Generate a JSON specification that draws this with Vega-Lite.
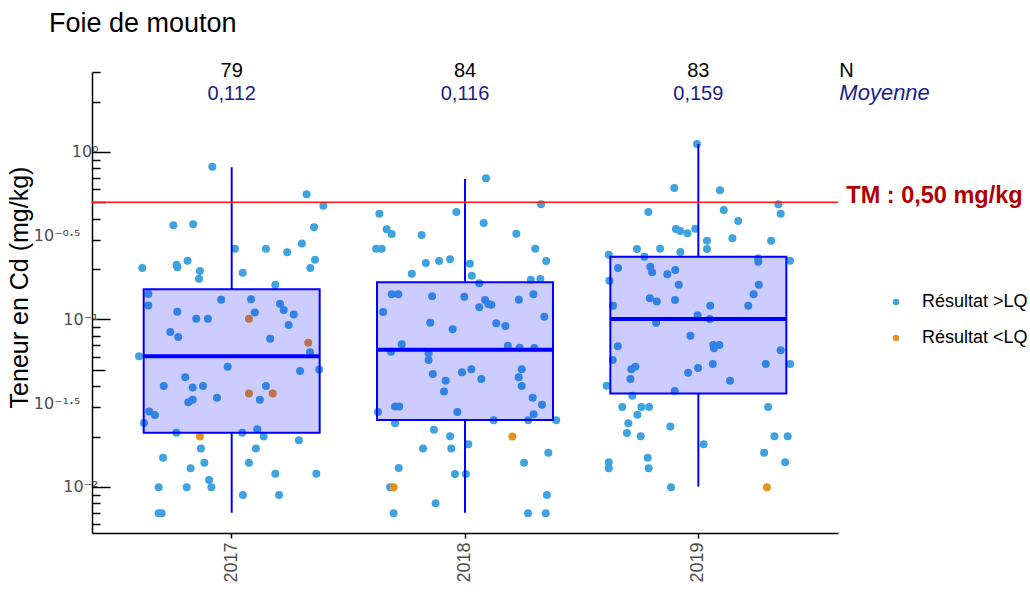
{
"$schema": "https://vega.github.io/schema/vega-lite/v6.json",
"width": 746, "height": 461,
"autosize": {"type": "none"},
"padding": {"left": 92, "top": 72, "right": 192, "bottom": 61},
"background": "white",
"config": {"view": {"stroke": null}, "font": "Liberation Sans", "axis": {"grid": false}},
"title": {"text": "Foie de mouton", "anchor": "start", "frame": "group", "dx": -43, "offset": 23, "fontSize": 27, "fontWeight": "normal", "font": "Liberation Sans", "color": "black"},
"datasets": {
"points": [
{"year":"2017","jitter":-0.083,"cd":0.817,"result":"Résultat >LQ"},
{"year":"2017","jitter":0.321,"cd":0.559,"result":"Résultat >LQ"},
{"year":"2017","jitter":0.393,"cd":0.478,"result":"Résultat >LQ"},
{"year":"2017","jitter":-0.25,"cd":0.365,"result":"Résultat >LQ"},
{"year":"2017","jitter":-0.165,"cd":0.37,"result":"Résultat >LQ"},
{"year":"2017","jitter":0.353,"cd":0.355,"result":"Résultat >LQ"},
{"year":"2017","jitter":0.014,"cd":0.264,"result":"Résultat >LQ"},
{"year":"2017","jitter":0.147,"cd":0.264,"result":"Résultat >LQ"},
{"year":"2017","jitter":0.238,"cd":0.252,"result":"Résultat >LQ"},
{"year":"2017","jitter":0.301,"cd":0.284,"result":"Résultat >LQ"},
{"year":"2017","jitter":-0.383,"cd":0.203,"result":"Résultat >LQ"},
{"year":"2017","jitter":-0.236,"cd":0.212,"result":"Résultat >LQ"},
{"year":"2017","jitter":-0.233,"cd":0.205,"result":"Résultat >LQ"},
{"year":"2017","jitter":-0.189,"cd":0.224,"result":"Résultat >LQ"},
{"year":"2017","jitter":-0.136,"cd":0.195,"result":"Résultat >LQ"},
{"year":"2017","jitter":-0.14,"cd":0.175,"result":"Résultat >LQ"},
{"year":"2017","jitter":0.047,"cd":0.19,"result":"Résultat >LQ"},
{"year":"2017","jitter":0.357,"cd":0.227,"result":"Résultat >LQ"},
{"year":"2017","jitter":0.337,"cd":0.203,"result":"Résultat >LQ"},
{"year":"2017","jitter":0.187,"cd":0.161,"result":"Résultat >LQ"},
{"year":"2017","jitter":-0.357,"cd":0.142,"result":"Résultat >LQ"},
{"year":"2017","jitter":-0.357,"cd":0.121,"result":"Résultat >LQ"},
{"year":"2017","jitter":-0.045,"cd":0.131,"result":"Résultat >LQ"},
{"year":"2017","jitter":0.083,"cd":0.132,"result":"Résultat >LQ"},
{"year":"2017","jitter":0.207,"cd":0.124,"result":"Résultat >LQ"},
{"year":"2017","jitter":0.223,"cd":0.114,"result":"Résultat >LQ"},
{"year":"2017","jitter":0.266,"cd":0.107,"result":"Résultat >LQ"},
{"year":"2017","jitter":0.099,"cd":0.11,"result":"Résultat >LQ"},
{"year":"2017","jitter":-0.233,"cd":0.111,"result":"Résultat >LQ"},
{"year":"2017","jitter":-0.152,"cd":0.101,"result":"Résultat >LQ"},
{"year":"2017","jitter":-0.102,"cd":0.101,"result":"Résultat >LQ"},
{"year":"2017","jitter":0.074,"cd":0.101,"result":"Résultat <LQ"},
{"year":"2017","jitter":0.244,"cd":0.0927,"result":"Résultat >LQ"},
{"year":"2017","jitter":-0.263,"cd":0.0842,"result":"Résultat >LQ"},
{"year":"2017","jitter":-0.229,"cd":0.0786,"result":"Résultat >LQ"},
{"year":"2017","jitter":0.165,"cd":0.0768,"result":"Résultat >LQ"},
{"year":"2017","jitter":0.328,"cd":0.0727,"result":"Résultat <LQ"},
{"year":"2017","jitter":0.336,"cd":0.0637,"result":"Résultat >LQ"},
{"year":"2017","jitter":-0.397,"cd":0.0603,"result":"Résultat >LQ"},
{"year":"2017","jitter":-0.017,"cd":0.0523,"result":"Résultat >LQ"},
{"year":"2017","jitter":0.293,"cd":0.0493,"result":"Résultat >LQ"},
{"year":"2017","jitter":0.375,"cd":0.0502,"result":"Résultat >LQ"},
{"year":"2017","jitter":-0.199,"cd":0.0452,"result":"Résultat >LQ"},
{"year":"2017","jitter":-0.291,"cd":0.0401,"result":"Résultat >LQ"},
{"year":"2017","jitter":-0.167,"cd":0.0392,"result":"Résultat >LQ"},
{"year":"2017","jitter":-0.123,"cd":0.0401,"result":"Résultat >LQ"},
{"year":"2017","jitter":-0.063,"cd":0.0341,"result":"Résultat >LQ"},
{"year":"2017","jitter":0.074,"cd":0.0361,"result":"Résultat <LQ"},
{"year":"2017","jitter":0.176,"cd":0.0361,"result":"Résultat <LQ"},
{"year":"2017","jitter":0.147,"cd":0.0401,"result":"Résultat >LQ"},
{"year":"2017","jitter":0.121,"cd":0.0332,"result":"Résultat >LQ"},
{"year":"2017","jitter":-0.186,"cd":0.032,"result":"Résultat >LQ"},
{"year":"2017","jitter":-0.167,"cd":0.0332,"result":"Résultat >LQ"},
{"year":"2017","jitter":-0.353,"cd":0.0282,"result":"Résultat >LQ"},
{"year":"2017","jitter":-0.329,"cd":0.0269,"result":"Résultat >LQ"},
{"year":"2017","jitter":-0.376,"cd":0.0241,"result":"Résultat >LQ"},
{"year":"2017","jitter":-0.237,"cd":0.0211,"result":"Résultat >LQ"},
{"year":"2017","jitter":-0.136,"cd":0.02,"result":"Résultat <LQ"},
{"year":"2017","jitter":0.045,"cd":0.0211,"result":"Résultat >LQ"},
{"year":"2017","jitter":0.11,"cd":0.0221,"result":"Résultat >LQ"},
{"year":"2017","jitter":0.137,"cd":0.02,"result":"Résultat >LQ"},
{"year":"2017","jitter":0.288,"cd":0.019,"result":"Résultat >LQ"},
{"year":"2017","jitter":-0.294,"cd":0.01496,"result":"Résultat >LQ"},
{"year":"2017","jitter":-0.132,"cd":0.017,"result":"Résultat >LQ"},
{"year":"2017","jitter":0.104,"cd":0.017,"result":"Résultat >LQ"},
{"year":"2017","jitter":-0.176,"cd":0.01293,"result":"Résultat >LQ"},
{"year":"2017","jitter":-0.117,"cd":0.01397,"result":"Résultat >LQ"},
{"year":"2017","jitter":0.074,"cd":0.01397,"result":"Résultat >LQ"},
{"year":"2017","jitter":0.187,"cd":0.012,"result":"Résultat >LQ"},
{"year":"2017","jitter":0.363,"cd":0.012,"result":"Résultat >LQ"},
{"year":"2017","jitter":-0.097,"cd":0.011,"result":"Résultat >LQ"},
{"year":"2017","jitter":-0.087,"cd":0.00996,"result":"Résultat >LQ"},
{"year":"2017","jitter":-0.313,"cd":0.00996,"result":"Résultat >LQ"},
{"year":"2017","jitter":-0.193,"cd":0.00996,"result":"Résultat >LQ"},
{"year":"2017","jitter":0.048,"cd":0.00896,"result":"Résultat >LQ"},
{"year":"2017","jitter":0.203,"cd":0.00896,"result":"Résultat >LQ"},
{"year":"2017","jitter":-0.313,"cd":0.00697,"result":"Résultat >LQ"},
{"year":"2017","jitter":-0.3,"cd":0.00697,"result":"Résultat >LQ"},
{"year":"2018","jitter":0.09,"cd":0.697,"result":"Résultat >LQ"},
{"year":"2018","jitter":0.326,"cd":0.487,"result":"Résultat >LQ"},
{"year":"2018","jitter":-0.367,"cd":0.428,"result":"Résultat >LQ"},
{"year":"2018","jitter":-0.037,"cd":0.438,"result":"Résultat >LQ"},
{"year":"2018","jitter":0.08,"cd":0.377,"result":"Résultat >LQ"},
{"year":"2018","jitter":-0.336,"cd":0.3455,"result":"Résultat >LQ"},
{"year":"2018","jitter":-0.314,"cd":0.3239,"result":"Résultat >LQ"},
{"year":"2018","jitter":-0.186,"cd":0.3195,"result":"Résultat >LQ"},
{"year":"2018","jitter":0.22,"cd":0.3253,"result":"Résultat >LQ"},
{"year":"2018","jitter":-0.381,"cd":0.264,"result":"Résultat >LQ"},
{"year":"2018","jitter":-0.357,"cd":0.264,"result":"Résultat >LQ"},
{"year":"2018","jitter":0.301,"cd":0.264,"result":"Résultat >LQ"},
{"year":"2018","jitter":0.348,"cd":0.2235,"result":"Résultat >LQ"},
{"year":"2018","jitter":-0.168,"cd":0.2175,"result":"Résultat >LQ"},
{"year":"2018","jitter":-0.111,"cd":0.2235,"result":"Résultat >LQ"},
{"year":"2018","jitter":-0.064,"cd":0.2288,"result":"Résultat >LQ"},
{"year":"2018","jitter":0.021,"cd":0.2154,"result":"Résultat >LQ"},
{"year":"2018","jitter":-0.228,"cd":0.1877,"result":"Résultat >LQ"},
{"year":"2018","jitter":0.029,"cd":0.1826,"result":"Résultat >LQ"},
{"year":"2018","jitter":0.061,"cd":0.1644,"result":"Résultat >LQ"},
{"year":"2018","jitter":0.282,"cd":0.1728,"result":"Résultat >LQ"},
{"year":"2018","jitter":0.323,"cd":0.1745,"result":"Résultat >LQ"},
{"year":"2018","jitter":-0.314,"cd":0.1414,"result":"Résultat >LQ"},
{"year":"2018","jitter":-0.286,"cd":0.1414,"result":"Résultat >LQ"},
{"year":"2018","jitter":-0.141,"cd":0.1376,"result":"Résultat >LQ"},
{"year":"2018","jitter":-0.003,"cd":0.1368,"result":"Résultat >LQ"},
{"year":"2018","jitter":0.086,"cd":0.1307,"result":"Résultat >LQ"},
{"year":"2018","jitter":0.1,"cd":0.1238,"result":"Résultat >LQ"},
{"year":"2018","jitter":0.113,"cd":0.1226,"result":"Résultat >LQ"},
{"year":"2018","jitter":0.061,"cd":0.1183,"result":"Résultat >LQ"},
{"year":"2018","jitter":0.231,"cd":0.1313,"result":"Résultat >LQ"},
{"year":"2018","jitter":0.293,"cd":0.1414,"result":"Résultat >LQ"},
{"year":"2018","jitter":-0.351,"cd":0.1109,"result":"Résultat >LQ"},
{"year":"2018","jitter":-0.149,"cd":0.0957,"result":"Résultat >LQ"},
{"year":"2018","jitter":-0.053,"cd":0.0874,"result":"Résultat >LQ"},
{"year":"2018","jitter":0.134,"cd":0.0949,"result":"Résultat >LQ"},
{"year":"2018","jitter":0.173,"cd":0.0915,"result":"Résultat >LQ"},
{"year":"2018","jitter":0.34,"cd":0.1039,"result":"Résultat >LQ"},
{"year":"2018","jitter":-0.271,"cd":0.0711,"result":"Résultat >LQ"},
{"year":"2018","jitter":-0.317,"cd":0.0642,"result":"Résultat >LQ"},
{"year":"2018","jitter":-0.156,"cd":0.0628,"result":"Résultat >LQ"},
{"year":"2018","jitter":-0.156,"cd":0.0573,"result":"Résultat >LQ"},
{"year":"2018","jitter":0.184,"cd":0.0698,"result":"Résultat >LQ"},
{"year":"2018","jitter":0.234,"cd":0.0679,"result":"Résultat >LQ"},
{"year":"2018","jitter":0.297,"cd":0.0676,"result":"Résultat >LQ"},
{"year":"2018","jitter":-0.138,"cd":0.0473,"result":"Résultat >LQ"},
{"year":"2018","jitter":-0.083,"cd":0.0431,"result":"Résultat >LQ"},
{"year":"2018","jitter":-0.013,"cd":0.0484,"result":"Résultat >LQ"},
{"year":"2018","jitter":0.027,"cd":0.0504,"result":"Résultat >LQ"},
{"year":"2018","jitter":0.07,"cd":0.0441,"result":"Résultat >LQ"},
{"year":"2018","jitter":0.243,"cd":0.0504,"result":"Résultat >LQ"},
{"year":"2018","jitter":0.23,"cd":0.0452,"result":"Résultat >LQ"},
{"year":"2018","jitter":0.243,"cd":0.0401,"result":"Résultat >LQ"},
{"year":"2018","jitter":-0.09,"cd":0.0371,"result":"Résultat >LQ"},
{"year":"2018","jitter":0.29,"cd":0.0341,"result":"Résultat >LQ"},
{"year":"2018","jitter":0.33,"cd":0.031,"result":"Résultat >LQ"},
{"year":"2018","jitter":-0.3,"cd":0.0302,"result":"Résultat >LQ"},
{"year":"2018","jitter":-0.282,"cd":0.0302,"result":"Résultat >LQ"},
{"year":"2018","jitter":-0.373,"cd":0.028,"result":"Résultat >LQ"},
{"year":"2018","jitter":-0.033,"cd":0.028,"result":"Résultat >LQ"},
{"year":"2018","jitter":0.294,"cd":0.0272,"result":"Résultat >LQ"},
{"year":"2018","jitter":-0.3,"cd":0.024,"result":"Résultat >LQ"},
{"year":"2018","jitter":0.123,"cd":0.025,"result":"Résultat >LQ"},
{"year":"2018","jitter":0.271,"cd":0.025,"result":"Résultat >LQ"},
{"year":"2018","jitter":0.391,"cd":0.025,"result":"Résultat >LQ"},
{"year":"2018","jitter":-0.133,"cd":0.022,"result":"Résultat >LQ"},
{"year":"2018","jitter":-0.064,"cd":0.0201,"result":"Résultat >LQ"},
{"year":"2018","jitter":0.203,"cd":0.02,"result":"Résultat <LQ"},
{"year":"2018","jitter":-0.18,"cd":0.017,"result":"Résultat >LQ"},
{"year":"2018","jitter":-0.059,"cd":0.017,"result":"Résultat >LQ"},
{"year":"2018","jitter":0.014,"cd":0.018,"result":"Résultat >LQ"},
{"year":"2018","jitter":0.357,"cd":0.016,"result":"Résultat >LQ"},
{"year":"2018","jitter":-0.284,"cd":0.01298,"result":"Résultat >LQ"},
{"year":"2018","jitter":0.253,"cd":0.01397,"result":"Résultat >LQ"},
{"year":"2018","jitter":-0.043,"cd":0.01196,"result":"Résultat >LQ"},
{"year":"2018","jitter":0.004,"cd":0.01196,"result":"Résultat >LQ"},
{"year":"2018","jitter":-0.321,"cd":0.00996,"result":"Résultat >LQ"},
{"year":"2018","jitter":-0.306,"cd":0.00996,"result":"Résultat <LQ"},
{"year":"2018","jitter":0.351,"cd":0.00896,"result":"Résultat >LQ"},
{"year":"2018","jitter":-0.126,"cd":0.00799,"result":"Résultat >LQ"},
{"year":"2018","jitter":-0.306,"cd":0.00697,"result":"Résultat >LQ"},
{"year":"2018","jitter":0.27,"cd":0.00697,"result":"Résultat >LQ"},
{"year":"2018","jitter":0.346,"cd":0.00697,"result":"Résultat >LQ"},
{"year":"2019","jitter":-0.006,"cd":1.116,"result":"Résultat >LQ"},
{"year":"2019","jitter":-0.103,"cd":0.6097,"result":"Résultat >LQ"},
{"year":"2019","jitter":0.093,"cd":0.5906,"result":"Résultat >LQ"},
{"year":"2019","jitter":0.343,"cd":0.487,"result":"Résultat >LQ"},
{"year":"2019","jitter":-0.214,"cd":0.438,"result":"Résultat >LQ"},
{"year":"2019","jitter":0.109,"cd":0.4504,"result":"Résultat >LQ"},
{"year":"2019","jitter":0.353,"cd":0.428,"result":"Résultat >LQ"},
{"year":"2019","jitter":0.171,"cd":0.3873,"result":"Résultat >LQ"},
{"year":"2019","jitter":-0.096,"cd":0.3469,"result":"Résultat >LQ"},
{"year":"2019","jitter":-0.078,"cd":0.3375,"result":"Résultat >LQ"},
{"year":"2019","jitter":-0.047,"cd":0.3271,"result":"Résultat >LQ"},
{"year":"2019","jitter":-0.013,"cd":0.3483,"result":"Résultat >LQ"},
{"year":"2019","jitter":0.037,"cd":0.2954,"result":"Résultat >LQ"},
{"year":"2019","jitter":0.146,"cd":0.3053,"result":"Résultat >LQ"},
{"year":"2019","jitter":0.312,"cd":0.2954,"result":"Résultat >LQ"},
{"year":"2019","jitter":-0.263,"cd":0.2636,"result":"Résultat >LQ"},
{"year":"2019","jitter":-0.164,"cd":0.2647,"result":"Résultat >LQ"},
{"year":"2019","jitter":-0.077,"cd":0.2529,"result":"Résultat >LQ"},
{"year":"2019","jitter":0.037,"cd":0.2636,"result":"Résultat >LQ"},
{"year":"2019","jitter":-0.384,"cd":0.2437,"result":"Résultat >LQ"},
{"year":"2019","jitter":-0.231,"cd":0.237,"result":"Résultat >LQ"},
{"year":"2019","jitter":0.256,"cd":0.2319,"result":"Résultat >LQ"},
{"year":"2019","jitter":0.257,"cd":0.2213,"result":"Résultat >LQ"},
{"year":"2019","jitter":0.393,"cd":0.2244,"result":"Résultat >LQ"},
{"year":"2019","jitter":-0.344,"cd":0.203,"result":"Résultat >LQ"},
{"year":"2019","jitter":-0.206,"cd":0.2066,"result":"Résultat >LQ"},
{"year":"2019","jitter":-0.198,"cd":0.1913,"result":"Résultat >LQ"},
{"year":"2019","jitter":-0.133,"cd":0.1862,"result":"Résultat >LQ"},
{"year":"2019","jitter":-0.099,"cd":0.1974,"result":"Résultat >LQ"},
{"year":"2019","jitter":-0.381,"cd":0.1704,"result":"Résultat >LQ"},
{"year":"2019","jitter":-0.084,"cd":0.1613,"result":"Résultat >LQ"},
{"year":"2019","jitter":0.259,"cd":0.1613,"result":"Résultat >LQ"},
{"year":"2019","jitter":0.237,"cd":0.1414,"result":"Résultat >LQ"},
{"year":"2019","jitter":-0.208,"cd":0.1338,"result":"Résultat >LQ"},
{"year":"2019","jitter":-0.178,"cd":0.1278,"result":"Résultat >LQ"},
{"year":"2019","jitter":-0.1,"cd":0.1307,"result":"Résultat >LQ"},
{"year":"2019","jitter":-0.366,"cd":0.1209,"result":"Résultat >LQ"},
{"year":"2019","jitter":0.051,"cd":0.1209,"result":"Résultat >LQ"},
{"year":"2019","jitter":0.214,"cd":0.1209,"result":"Résultat >LQ"},
{"year":"2019","jitter":-0.003,"cd":0.1059,"result":"Résultat >LQ"},
{"year":"2019","jitter":0.049,"cd":0.1007,"result":"Résultat >LQ"},
{"year":"2019","jitter":-0.181,"cd":0.0957,"result":"Résultat >LQ"},
{"year":"2019","jitter":-0.034,"cd":0.08,"result":"Résultat >LQ"},
{"year":"2019","jitter":-0.345,"cd":0.0692,"result":"Résultat >LQ"},
{"year":"2019","jitter":0.064,"cd":0.0705,"result":"Résultat >LQ"},
{"year":"2019","jitter":0.09,"cd":0.0705,"result":"Résultat >LQ"},
{"year":"2019","jitter":0.067,"cd":0.0673,"result":"Résultat >LQ"},
{"year":"2019","jitter":0.353,"cd":0.0655,"result":"Résultat >LQ"},
{"year":"2019","jitter":-0.367,"cd":0.0573,"result":"Résultat >LQ"},
{"year":"2019","jitter":0.394,"cd":0.0542,"result":"Résultat >LQ"},
{"year":"2019","jitter":0.289,"cd":0.0542,"result":"Résultat >LQ"},
{"year":"2019","jitter":0.062,"cd":0.0542,"result":"Résultat >LQ"},
{"year":"2019","jitter":-0.001,"cd":0.0513,"result":"Résultat >LQ"},
{"year":"2019","jitter":-0.044,"cd":0.0481,"result":"Résultat >LQ"},
{"year":"2019","jitter":-0.27,"cd":0.0523,"result":"Résultat >LQ"},
{"year":"2019","jitter":-0.287,"cd":0.0504,"result":"Résultat >LQ"},
{"year":"2019","jitter":-0.291,"cd":0.0441,"result":"Résultat >LQ"},
{"year":"2019","jitter":0.136,"cd":0.0431,"result":"Résultat >LQ"},
{"year":"2019","jitter":-0.393,"cd":0.0402,"result":"Résultat >LQ"},
{"year":"2019","jitter":-0.101,"cd":0.0374,"result":"Résultat >LQ"},
{"year":"2019","jitter":-0.283,"cd":0.0351,"result":"Résultat >LQ"},
{"year":"2019","jitter":-0.326,"cd":0.03,"result":"Résultat >LQ"},
{"year":"2019","jitter":-0.244,"cd":0.03,"result":"Résultat >LQ"},
{"year":"2019","jitter":-0.211,"cd":0.03,"result":"Résultat >LQ"},
{"year":"2019","jitter":0.299,"cd":0.03,"result":"Résultat >LQ"},
{"year":"2019","jitter":-0.261,"cd":0.027,"result":"Résultat >LQ"},
{"year":"2019","jitter":-0.3,"cd":0.024,"result":"Résultat >LQ"},
{"year":"2019","jitter":-0.12,"cd":0.023,"result":"Résultat >LQ"},
{"year":"2019","jitter":-0.306,"cd":0.021,"result":"Résultat >LQ"},
{"year":"2019","jitter":-0.247,"cd":0.0201,"result":"Résultat >LQ"},
{"year":"2019","jitter":0.326,"cd":0.0201,"result":"Résultat >LQ"},
{"year":"2019","jitter":0.383,"cd":0.0201,"result":"Résultat >LQ"},
{"year":"2019","jitter":0.023,"cd":0.018,"result":"Résultat >LQ"},
{"year":"2019","jitter":0.282,"cd":0.016,"result":"Résultat >LQ"},
{"year":"2019","jitter":-0.384,"cd":0.01405,"result":"Résultat >LQ"},
{"year":"2019","jitter":-0.384,"cd":0.01293,"result":"Résultat >LQ"},
{"year":"2019","jitter":-0.217,"cd":0.01496,"result":"Résultat >LQ"},
{"year":"2019","jitter":-0.213,"cd":0.01293,"result":"Résultat >LQ"},
{"year":"2019","jitter":0.372,"cd":0.01405,"result":"Résultat >LQ"},
{"year":"2019","jitter":-0.117,"cd":0.00996,"result":"Résultat >LQ"},
{"year":"2019","jitter":0.294,"cd":0.00996,"result":"Résultat <LQ"}
],
"boxes": [
{"year":"2017","lower":0.00702,"q1":0.0211,"median":0.0603,"q3":0.1515,"upper":0.81},
{"year":"2018","lower":0.00702,"q1":0.0251,"median":0.066,"q3":0.1668,"upper":0.69},
{"year":"2019","lower":0.01005,"q1":0.0361,"median":0.1007,"q3":0.237,"upper":1.116}
],
"labels": [
{"year":"2017","n":"79","mean":"0,112"},
{"year":"2018","n":"84","mean":"0,116"},
{"year":"2019","n":"83","mean":"0,159"}
]
},
"layer": [
{
"data": {"name": "points"},
"mark": {"type": "circle", "size": 64, "opacity": 1},
"encoding": {
"x": {"field": "year", "type": "nominal", "scale": {"paddingInner": 0, "paddingOuter": 0.0986},
 "axis": {"title": null, "labelAngle": -90, "labelFontSize": 18, "labelColor": "#4d4d4d", "labelFont": "Liberation Sans", "tickColor": "black", "tickSize": 5, "tickWidth": 1.5, "domainColor": "black", "domainWidth": 1.5, "labelPadding": 4}},
"xOffset": {"field": "jitter", "type": "quantitative", "scale": {"domain": [-0.5, 0.5]}},
"y": {"field": "cd", "type": "quantitative", "scale": {"type": "log", "domain": [0.005314, 3.0], "nice": false},
 "axis": {"title": "Teneur en Cd (mg/kg)", "titleFontSize": 25, "titleFontWeight": "normal", "titleColor": "black", "titleFont": "Liberation Sans", "titleX": -73, "titleY": 215, "titleAngle": -90, "titleAlign": "center", "titleBaseline": "middle",
  "values": [3,2,1,0.9,0.8,0.7,0.6,0.5,0.4,0.31623,0.3,0.2,0.1,0.09,0.08,0.07,0.06,0.05,0.04,0.031623,0.03,0.02,0.01,0.009,0.008,0.007,0.006],
  "labelExpr": "datum.value == 1 ? '10⁰' : datum.value == 0.31623 ? '10⁻⁰·⁵' : datum.value == 0.1 ? '10⁻¹' : datum.value == 0.031623 ? '10⁻¹·⁵' : datum.value == 0.01 ? '10⁻²' : ''",
  "labelOverlap": false, "labelColor": "#4d4d4d", "labelFontSize": 16, "labelFont": "DejaVu Sans", "labelPadding": 12,
  "tickSize": {"condition": [{"test": "datum.value == 1 || datum.value == 0.1 || datum.value == 0.01", "value": -18}, {"test": "datum.value == 0.5 || datum.value == 0.05", "value": -13}, {"test": "datum.value == 0.31623 || datum.value == 0.031623", "value": 0}], "value": -8},
  "tickColor": "black", "tickWidth": 1.5, "domainColor": "black", "domainWidth": 1.5}},
"color": {"field": "result", "type": "nominal", "scale": {"domain": ["Résultat >LQ", "Résultat <LQ"], "range": ["#3FA3DF", "#E8921E"]},
 "legend": {"title": null, "orient": "none", "legendX": 795, "legendY": 221, "labelFontSize": 18, "labelColor": "black", "labelFont": "Liberation Sans", "symbolType": "circle", "symbolSize": 42, "symbolStrokeWidth": 0, "rowPadding": 18, "labelOffset": 17, "padding": 0}}
}
},
{
"data": {"name": "boxes"},
"mark": {"type": "bar", "width": 176, "fill": "#0000ff", "fillOpacity": 0.2, "stroke": "#0000ff", "strokeWidth": 2},
"encoding": {"x": {"field": "year", "type": "nominal"}, "y": {"field": "q1", "type": "quantitative"}, "y2": {"field": "q3"}}
},
{
"data": {"name": "boxes"},
"mark": {"type": "rule", "color": "#0000ff", "strokeWidth": 2},
"encoding": {"x": {"field": "year", "type": "nominal"}, "y": {"field": "q3", "type": "quantitative"}, "y2": {"field": "upper"}}
},
{
"data": {"name": "boxes"},
"mark": {"type": "rule", "color": "#0000ff", "strokeWidth": 2},
"encoding": {"x": {"field": "year", "type": "nominal"}, "y": {"field": "lower", "type": "quantitative"}, "y2": {"field": "q1"}}
},
{
"data": {"name": "boxes"},
"mark": {"type": "tick", "color": "#0000ff", "thickness": 4, "size": 176, "opacity": 1},
"encoding": {"x": {"field": "year", "type": "nominal"}, "y": {"field": "median", "type": "quantitative"}}
},
{
"data": {"values": [{"limit": 0.5}]},
"mark": {"type": "rule", "color": "#ff1a1a", "strokeWidth": 1.5},
"encoding": {"y": {"field": "limit", "type": "quantitative"}}
},
{
"data": {"values": [{"t": "TM : 0,50 mg/kg", "limit": 0.5}]},
"mark": {"type": "text", "align": "left", "baseline": "alphabetic", "dx": 148, "dy": 1, "font": "Liberation Sans", "fontWeight": "bold", "fontSize": 23.5, "color": "#b00000"},
"encoding": {"x": {"datum": "2019", "type": "nominal"}, "y": {"field": "limit", "type": "quantitative"}, "text": {"field": "t"}}
},
{
"data": {"name": "labels"},
"mark": {"type": "text", "baseline": "alphabetic", "font": "Liberation Sans", "fontSize": 20, "color": "black"},
"encoding": {"x": {"field": "year", "type": "nominal"}, "y": {"datum": 2.793}, "text": {"field": "n"}}
},
{
"data": {"name": "labels"},
"mark": {"type": "text", "baseline": "alphabetic", "font": "Liberation Sans", "fontSize": 20, "color": "#1c1c8c"},
"encoding": {"x": {"field": "year", "type": "nominal"}, "y": {"datum": 2.044}, "text": {"field": "mean"}}
},
{
"data": {"values": [{"h": "N"}]},
"mark": {"type": "text", "align": "left", "baseline": "alphabetic", "dx": 141, "font": "Liberation Sans", "fontSize": 20, "color": "black"},
"encoding": {"x": {"datum": "2019", "type": "nominal"}, "y": {"datum": 2.793}, "text": {"field": "h"}}
},
{
"data": {"values": [{"h": "Moyenne"}]},
"mark": {"type": "text", "align": "left", "baseline": "alphabetic", "dx": 141, "font": "Liberation Sans", "fontSize": 22, "fontStyle": "italic", "color": "#1c1c8c"},
"encoding": {"x": {"datum": "2019", "type": "nominal"}, "y": {"datum": 2.044}, "text": {"field": "h"}}
}
]
}
